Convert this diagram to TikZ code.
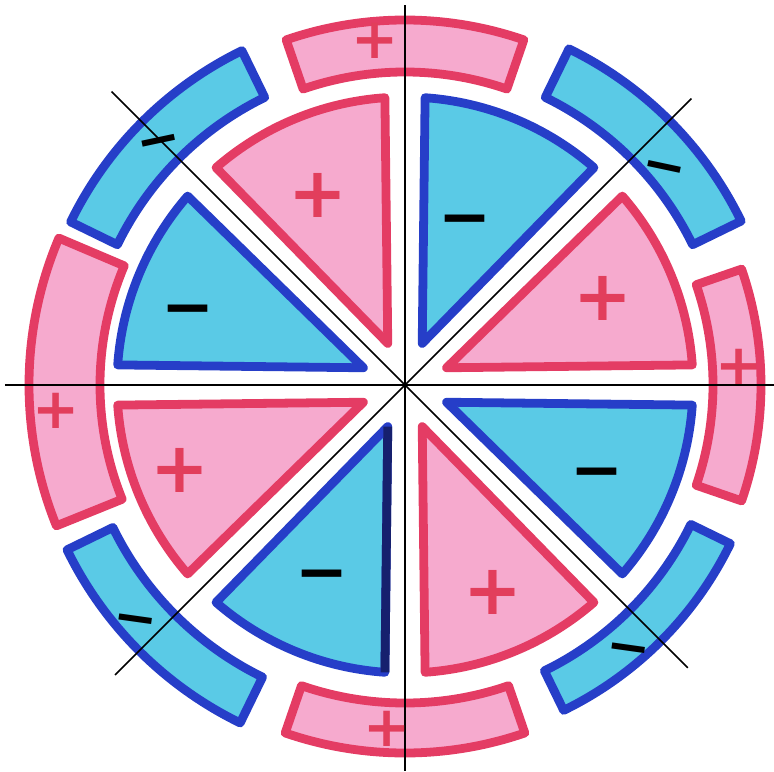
\documentclass[tikz,border=0pt]{standalone}
\usepackage{fontspec}
\usepackage{tikz}
\newfontfamily\signfont{DejaVu Sans}
\definecolor{pinkfill}{RGB}{246,170,206}
\definecolor{pinkline}{RGB}{228,60,100}
\definecolor{bluefill}{RGB}{90,202,230}
\definecolor{blueline}{RGB}{38,62,200}
\definecolor{navyline}{RGB}{22,32,110}
\definecolor{plusred}{RGB}{226,62,92}

\begin{document}
\begin{tikzpicture}[scale=0.02, line join=round,
    pinkpart/.style={draw=pinkline, fill=pinkfill, line width=5pt},
    bluepart/.style={draw=blueline, fill=bluefill, line width=5pt},
    axisline/.style={line width=1pt, black},
    plussign/.style={text=plusred, inner sep=0pt, font=\signfont\bfseries\fontsize{40pt}{40pt}\selectfont},
    minussign/.style={text=black, inner sep=0pt, text height=27pt, text depth=0pt, font=\signfont\bfseries\fontsize{36pt}{36pt}\selectfont},
    ringplus/.style={plussign, font=\signfont\bfseries\fontsize{32pt}{32pt}\selectfont},
    ringminus/.style={minussign, text height=23pt, font=\signfont\bfseries\fontsize{30pt}{30pt}\selectfont}]
    \useasboundingbox (-405,-386) rectangle (369,385);
    % Inner slices
    \draw[pinkpart] (22.5:45) -- (4:288) arc (4:41:288) -- cycle;
    \draw[bluepart] (67.5:45) -- (49:288) arc (49:86:288) -- cycle;
    \draw[pinkpart] (112.5:45) -- (94:288) arc (94:131:288) -- cycle;
    \draw[bluepart] (157.5:45) -- (139:288) arc (139:176:288) -- cycle;
    \draw[pinkpart] (202.5:45) -- (184:288) arc (184:221:288) -- cycle;
    \draw[bluepart] (247.5:45) -- (229:288) arc (229:266:288) -- cycle;
    \draw[line width=5pt, navyline] (247.5:45) -- (266:288);
    \draw[pinkpart] (292.5:45) -- (274:288) arc (274:311:288) -- cycle;
    \draw[bluepart] (337.5:45) -- (319:288) arc (319:356:288) -- cycle;
    % Outer ring segments
    \draw[pinkpart] (-19:308) arc (-19:19:308) -- (19:356) arc (19:-19:356) -- cycle;
    \draw[bluepart] (26:320) arc (26:64:320) -- (64:374) arc (64:26:374) -- cycle;
    \draw[pinkpart] (71:313) arc (71:109:313) -- (109:365) arc (109:71:365) -- cycle;
    \draw[bluepart] (116:320) arc (116:154:320) -- (154:372) arc (154:116:372) -- cycle;
    \draw[pinkpart] (157:305) arc (157:202:305) -- (202:376) arc (202:157:376) -- cycle;
    \draw[bluepart] (206:325) arc (206:244:325) -- (244:376) arc (244:206:376) -- cycle;
    \draw[pinkpart] (251:318) arc (251:289:318) -- (289:368) arc (289:251:368) -- cycle;
    \draw[bluepart] (296:318) arc (296:334:318) -- (334:362) arc (334:296:362) -- cycle;
    % Dividing lines
    \draw[axisline] (-400,0) -- (369,0);
    \draw[axisline] (0,380) -- (0,-386);
    \draw[axisline] (225:410) -- (45:405);
    \draw[axisline] (135:415) -- (315:400);
    % Signs on the slices
    \node[plussign] (pSliceA) at (198,87) {+};
    \node[minussign] (mSliceB) at (60,170) {−};
    \node[plussign] (pSliceC) at (-87,190) {+};
    \node[minussign] (mSliceD) at (-217,80) {−};
    \node[plussign] (pSliceE) at (-225,-85) {+};
    \node[minussign] (mSliceF) at (-83,-185) {−};
    \node[plussign] (pSliceG) at (88,-207) {+};
    \node[minussign] (mSliceH) at (192,-83) {−};
    % Signs on the ring
    \node[ringplus] (pRingE) at (334,18) {+};
    \node[ringminus, rotate=-12] (mRingNE) at (260,222) {−};
    \node[ringplus] (pRingN) at (-30,344) {+};
    \node[ringminus, rotate=12] (mRingNW) at (-247,248) {−};
    \node[ringplus] (pRingW) at (-349,-26) {+};
    \node[ringminus, rotate=-8] (mRingSW) at (-269,-231) {−};
    \node[ringplus] (pRingS) at (-18,-344) {+};
    \node[ringminus, rotate=-8] (mRingSE) at (224,-260) {−};
\end{tikzpicture}
\end{document}
